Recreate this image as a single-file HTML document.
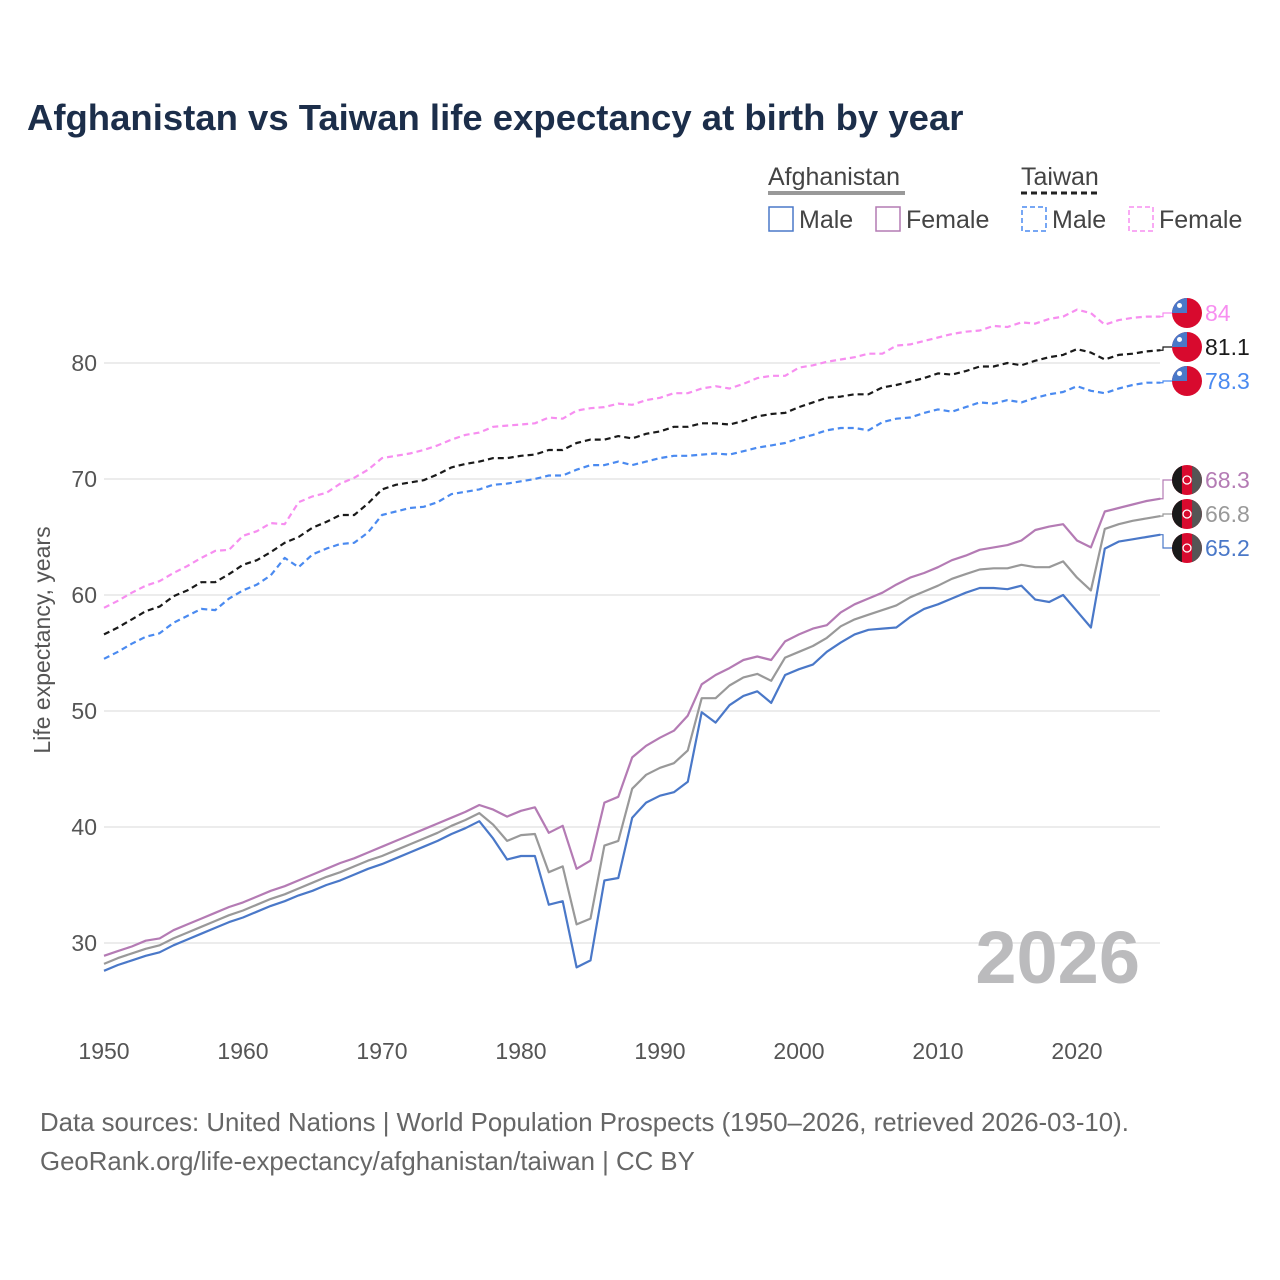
<!DOCTYPE html>
<html><head><meta charset="utf-8"><style>
body{margin:0;background:#fff;font-family:"Liberation Sans",sans-serif;}
#wrap{position:relative;width:1280px;height:1280px;overflow:hidden;}
</style></head><body>
<div id="wrap">
<svg id="chart" width="1280" height="1280" xmlns="http://www.w3.org/2000/svg">
<text x="27" y="130" font-size="36.5" font-weight="bold" fill="#1c2e4a">Afghanistan vs Taiwan life expectancy at birth by year</text>
<g font-size="25" fill="#333">
 <text x="768" y="185" fill="#444">Afghanistan</text>
 <line x1="768" y1="193" x2="905" y2="193" stroke="#999" stroke-width="4"/>
 <text x="1021" y="185" fill="#444">Taiwan</text>
 <line x1="1021" y1="193" x2="1100" y2="193" stroke="#222" stroke-width="3" stroke-dasharray="6,4"/>
 <rect x="769" y="207" width="24" height="24" fill="none" stroke="#4a78c8" stroke-width="1.5"/>
 <text x="799" y="228" fill="#444">Male</text>
 <rect x="876" y="207" width="24" height="24" fill="none" stroke="#b47bb4" stroke-width="1.5"/>
 <text x="906" y="228" fill="#444">Female</text>
 <rect x="1022" y="207" width="24" height="24" fill="none" stroke="#4a8af0" stroke-width="1.5" stroke-dasharray="5,3"/>
 <text x="1052" y="228" fill="#444">Male</text>
 <rect x="1129" y="207" width="24" height="24" fill="none" stroke="#f78ef0" stroke-width="1.5" stroke-dasharray="5,3"/>
 <text x="1159" y="228" fill="#444">Female</text>
</g>
<text transform="translate(50,640) rotate(-90)" text-anchor="middle" font-size="23" fill="#555">Life expectancy, years</text>
<g id="grid"></g>
<text x="1140" y="983" text-anchor="end" font-size="74" font-weight="bold" fill="#bbbbbd">2026</text>
<g id="series"></g>
<g id="ends"></g>
<text x="40" y="1131" font-size="25.8" fill="#666">Data sources: United Nations | World Population Prospects (1950–2026, retrieved 2026-03-10).</text>
<text x="40" y="1170" font-size="25.8" fill="#666">GeoRank.org/life-expectancy/afghanistan/taiwan | CC BY</text>
</svg>
</div>
<script>
const startYear = 1950;
const xTicks = [1950,1960,1970,1980,1990,2000,2010,2020];
const yTicks = [30,40,50,60,70,80];
const afgMale = [27.6,28.1,28.5,28.9,29.2,29.8,30.3,30.8,31.3,31.8,
32.2,32.7,33.2,33.6,34.1,34.5,35.0,35.4,35.9,36.4,
36.8,37.3,37.8,38.3,38.8,39.4,39.9,40.5,39.0,37.2,
37.5,37.5,33.3,33.6,27.9,28.5,35.4,35.6,40.8,42.1,
42.7,43.0,43.9,49.9,49.0,50.5,51.3,51.7,50.7,53.1,
53.6,54.0,55.1,55.9,56.6,57.0,57.1,57.2,58.1,58.8,
59.2,59.7,60.2,60.6,60.6,60.5,60.8,59.6,59.4,60.0,
58.6,57.2,64.0,64.6,64.8,65.0,65.2];
const afgFemale = [28.9,29.3,29.7,30.2,30.4,31.1,31.6,32.1,32.6,33.1,
33.5,34.0,34.5,34.9,35.4,35.9,36.4,36.9,37.3,37.8,
38.3,38.8,39.3,39.8,40.3,40.8,41.3,41.9,41.5,40.9,
41.4,41.7,39.5,40.1,36.4,37.1,42.1,42.6,46.0,47.0,
47.7,48.3,49.6,52.3,53.1,53.7,54.4,54.7,54.4,56.0,
56.6,57.1,57.4,58.5,59.2,59.7,60.2,60.9,61.5,61.9,
62.4,63.0,63.4,63.9,64.1,64.3,64.7,65.6,65.9,66.1,
64.7,64.1,67.2,67.5,67.8,68.1,68.3];
const afgTotal = [28.2,28.7,29.1,29.5,29.8,30.4,30.9,31.4,31.9,32.4,
32.8,33.3,33.8,34.2,34.7,35.2,35.7,36.1,36.6,37.1,
37.5,38.0,38.5,39.0,39.5,40.1,40.6,41.2,40.2,38.8,
39.3,39.4,36.1,36.6,31.6,32.1,38.4,38.8,43.3,44.5,
45.1,45.5,46.6,51.1,51.1,52.2,52.9,53.2,52.6,54.6,
55.1,55.6,56.3,57.3,57.9,58.3,58.7,59.1,59.8,60.3,
60.8,61.4,61.8,62.2,62.3,62.3,62.6,62.4,62.4,62.9,
61.5,60.4,65.7,66.1,66.4,66.6,66.8];
const twnFemale = [58.9,59.5,60.2,60.8,61.2,61.9,62.5,63.2,63.8,63.9,
65.1,65.5,66.2,66.1,68.0,68.5,68.8,69.6,70.1,70.8,
71.8,72.0,72.2,72.5,72.9,73.4,73.8,74.0,74.5,74.6,
74.7,74.8,75.3,75.2,75.9,76.1,76.2,76.5,76.4,76.8,
77.0,77.4,77.4,77.8,78.0,77.8,78.2,78.7,78.9,78.9,
79.6,79.8,80.1,80.3,80.5,80.8,80.8,81.5,81.6,81.9,
82.2,82.5,82.7,82.8,83.2,83.1,83.5,83.4,83.8,84.0,
84.6,84.3,83.3,83.7,83.9,84.0,84.0];
const twnTotal = [56.6,57.2,57.9,58.6,59.0,59.9,60.4,61.1,61.1,61.8,
62.6,63.0,63.7,64.5,65.0,65.8,66.3,66.9,66.9,67.9,
69.1,69.5,69.7,69.9,70.4,71.0,71.3,71.5,71.8,71.8,
72.0,72.1,72.5,72.5,73.1,73.4,73.4,73.7,73.5,73.9,
74.1,74.5,74.5,74.8,74.8,74.7,75.0,75.4,75.6,75.7,
76.2,76.6,77.0,77.1,77.3,77.3,77.9,78.1,78.4,78.7,
79.1,79.0,79.3,79.7,79.7,80.0,79.8,80.2,80.5,80.7,
81.2,80.9,80.3,80.7,80.8,81.0,81.1];
const twnMale = [54.5,55.1,55.8,56.4,56.7,57.6,58.2,58.8,58.7,59.7,
60.4,60.9,61.7,63.2,62.4,63.5,64.0,64.4,64.5,65.4,
66.9,67.2,67.5,67.6,68.0,68.7,68.9,69.1,69.5,69.6,
69.8,70.0,70.3,70.3,70.8,71.2,71.2,71.5,71.2,71.5,
71.8,72.0,72.0,72.1,72.2,72.1,72.4,72.7,72.9,73.1,
73.5,73.8,74.2,74.4,74.4,74.2,74.9,75.2,75.3,75.7,
76.0,75.8,76.2,76.6,76.5,76.8,76.6,77.0,77.3,77.5,
78.0,77.6,77.4,77.8,78.1,78.3,78.3];
const endLabels = ["84","81.1","78.3","68.3","66.8","65.2"];

const NS="http://www.w3.org/2000/svg";
function xS(yr){return 104+(yr-1950)*13.9;}
function yS(v){return 363+(80-v)*11.6;}
function mk(tag,attrs,parent){const e=document.createElementNS(NS,tag);for(const k in attrs)e.setAttribute(k,attrs[k]);parent.appendChild(e);return e;}
const grid=document.getElementById('grid');
yTicks.forEach(v=>{
  const l=mk('line',{x1:104,x2:1160,y1:yS(v),y2:yS(v),stroke:'#e6e6e6','stroke-width':1.5},grid);
  
  
  const t=mk('text',{x:97,y:yS(v)+8,'text-anchor':'end','font-size':23,fill:'#555'},grid);
  t.textContent=v;
  
  
});
xTicks.forEach(yr=>{
  const t=mk('text',{x:xS(yr),y:1059,'text-anchor':'middle','font-size':23,fill:'#555'},grid);
  t.textContent=yr;
  
  
});
const series=[
 {d:twnFemale,c:'#f78ef0',dash:'6,4',name:'taiwan-female-line',flag:'twn'},
 {d:twnTotal,c:'#1a1a1a',dash:'6,4',name:'taiwan-total-line',flag:'twn'},
 {d:twnMale,c:'#4a8af0',dash:'6,4',name:'taiwan-male-line',flag:'twn'},
 {d:afgFemale,c:'#b47bb4',dash:null,name:'afghanistan-female-line',flag:'afg'},
 {d:afgTotal,c:'#999999',dash:null,name:'afghanistan-total-line',flag:'afg'},
 {d:afgMale,c:'#4a78c8',dash:null,name:'afghanistan-male-line',flag:'afg'}
];
const labelY=[313,347,381,480,514,548];
const sg=document.getElementById('series'), eg=document.getElementById('ends');
series.forEach((s,i)=>{
  const pts=s.d.map((v,j)=>xS(startYear+j).toFixed(1)+','+yS(v).toFixed(1)).join(' ');
  const a={points:pts,fill:'none',stroke:s.c,'stroke-width':2.2,'stroke-linejoin':'round'};
  if(s.dash)a['stroke-dasharray']=s.dash;
  const p=mk('polyline',a,sg);
  
  
  const lastY=yS(s.d[s.d.length-1]), ly=labelY[i];
  const con=mk('polyline',{points:`1160,${lastY} 1163,${lastY} 1163,${ly} 1172,${ly}`,fill:'none',stroke:s.c,'stroke-width':1.2},eg);
  
  
  const g=mk('g',{},eg);
  
  
  const cx=1187,cy=ly,r=15;
  const cid='clip'+i;
  const cp=mk('clipPath',{id:cid},g);mk('circle',{cx:cx,cy:cy,r:r},cp);
  const inner=mk('g',{'clip-path':`url(#${cid})`},g);
  if(s.flag==='twn'){
    mk('rect',{x:cx-r,y:cy-r,width:2*r,height:2*r,fill:'#d80a2e'},inner);
    mk('rect',{x:cx-r,y:cy-r,width:r,height:r,fill:'#4a78c8'},inner);
    mk('circle',{cx:cx-r/2,cy:cy-r/2,r:2.5,fill:'#fff'},inner);
  }else{
    mk('rect',{x:cx-r,y:cy-r,width:2*r,height:2*r,fill:'#d80a2e'},inner);
    mk('rect',{x:cx-r,y:cy-r,width:r*0.66,height:2*r,fill:'#1a1a1a'},inner);
    mk('rect',{x:cx+r*0.34,y:cy-r,width:r*0.66,height:2*r,fill:'#555'},inner);
    mk('circle',{cx:cx,cy:cy,r:4,fill:'none',stroke:'#fff','stroke-width':1.3},inner);
  }
  const t=mk('text',{x:1205,y:ly+8,'font-size':23,fill:s.c},eg);
  t.textContent=endLabels[i];
  
  
});
</script>
</body></html>
